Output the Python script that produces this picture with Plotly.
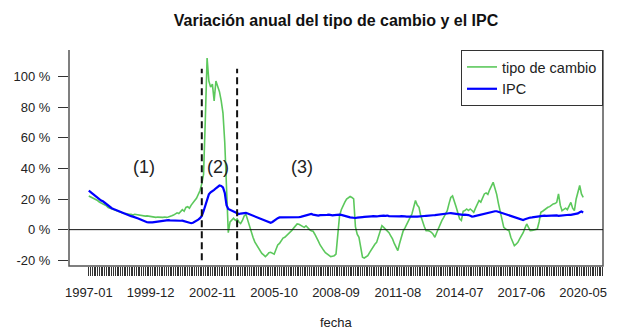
import pandas as pd
import plotly.graph_objects as go

# Monthly series, 1997-01 .. 2020-05
fechas = pd.date_range("1997-01-01", "2020-05-01", freq="MS").strftime("%Y-%m").tolist()

# Annual variation of the exchange rate (%)
tipo_cambio = [
    22, 21.5, 21, 20.5, 19.5, 19, 18, 17.5, 16.5, 16, 15.5, 14.5,          # 1997
    14, 13.5, 13, 12.5, 12, 11.5, 11, 11, 10.5, 10.5, 10, 10,              # 1998
    10, 9.5, 10, 9.8, 9.5, 9.5, 9, 9.2, 8.8, 9, 8.7, 8.7,                  # 1999
    8.5, 8.3, 8, 8.2, 8, 7.8, 8, 8.2, 8, 8.3, 8.5, 9,                      # 2000
    9.5, 10, 11, 10.5, 12, 13, 12, 14.5, 15, 14, 16, 17.8,                 # 2001
    19, 20.5, 23, 25.5, 30, 36, 72, 112, 97, 93, 95, 84,                   # 2002
    97, 94, 90, 84, 76, 57, 26, -2, 5, 6, 7.5, 6,                          # 2003
    7, 5, 4, 6, 9, 10, 6, 3, -1, -5, -8, -10,                              # 2004
    -12, -14, -15.5, -16.5, -17.6, -16.5, -15, -14.8, -15.5, -16, -13, -10,  # 2005
    -9, -7, -5.5, -5, -4, -3, -1.7, -0.5, 1, 2.5, 3.7, 3.5,                # 2006
    3, 2, 1.5, 2.5, 1, 0, -0.7, -1, -3, -5, -7.5, -10,                     # 2007
    -12, -13.5, -15, -16, -17, -17.6, -17.3, -17, -16, -3, 9, 13,          # 2008
    16, 18, 20, 21, 21.6, 21, 20, 2, -3, -5, -12, -18,                     # 2009
    -18.5, -18, -17, -15, -13, -11, -9.5, -8.3, -5, -1, 2.6, 1.5,          # 2010
    0.5, -0.7, -2, -4, -6, -9, -12, -13.7, -9, -5, -1, 1,                  # 2011
    3.7, 6, 8, 10.2, 15, 19, 16, 14.6, 9, 4.8, 2, -0.7,                    # 2012
    -0.5, -1, -1.7, -3, -5, -2, 1, 3.7, 6, 8, 10, 12.4,                    # 2013
    17, 21, 22, 19, 15, 11, 7, 6, 12, 12.5, 13.5, 12.5,                    # 2014
    13.5, 12.5, 11.3, 14, 17, 19, 18, 21, 23.3, 24, 23, 26,                # 2015
    28, 30.9, 27, 23, 17, 11, 6, 1.5, 0.5, 0, -0.7, -5,                    # 2016
    -8, -10.5, -9.5, -8.3, -6, -4, -2, 1, 3.7, 1.5, -0.7, -0.5,            # 2017
    -0.3, 0.2, 0.4, 5, 11.3, 12, 13, 13.5, 14.6, 15, 16, 16.8,             # 2018
    17, 17.8, 23.3, 16, 12.4, 13, 14, 13, 16, 17.8, 14, 12.4,              # 2019
    20, 24, 28.8, 23.3, 21,                                                # 2020
]

# Annual variation of the consumer price index (%)
ipc = [
    25.5, 24.5, 24, 23, 22, 21, 20, 19, 18.5, 17.5, 16.5, 15.5,            # 1997
    15, 14, 13.5, 13, 12.5, 12, 11.3, 11, 10.5, 10, 9.5, 9,                # 1998
    8.8, 8.5, 8.2, 8, 7.3, 6.8, 6.2, 5.7, 5.2, 4.8, 4.7, 4.6,              # 1999
    4.7, 4.9, 5.1, 5.3, 5.5, 5.8, 6, 6.2, 6.3, 6.2, 6, 5.9,                # 2000
    6, 6, 5.9, 5.9, 5.8, 5.9, 5.5, 5, 4.5, 4.1, 4.2, 4.5,                  # 2001
    5, 5.8, 6.5, 7.5, 9, 12, 16, 20, 23, 24.4, 25.5, 26,                   # 2002
    27, 28, 28.8, 28.5, 27.5, 24, 16, 13.5, 13, 12.4, 11.5, 11,            # 2003
    10.5, 10.2, 10.5, 10.8, 11, 10.9, 10.5, 10, 9.5, 9, 8.5, 8,            # 2004
    7.5, 7, 6.5, 6, 5.5, 5, 4.8, 4.5, 5, 6, 6.5, 7.5,                      # 2005
    8, 8, 7.8, 8, 8.2, 8, 7.8, 8, 8.2, 8, 8, 8.2,                          # 2006
    8.3, 8.6, 9, 9.3, 9.6, 10, 10.2, 9.8, 9.5, 9.2, 9.2, 9.5,              # 2007
    9.5, 9.3, 9.5, 9.6, 9.8, 9.5, 9.3, 9.5, 9.7, 9.8, 9.8, 9.6,            # 2008
    9.4, 9, 8.7, 8.3, 8, 7.8, 7.6, 7.6, 7.8, 7.8, 8, 8.2,                  # 2009
    8.3, 8.3, 8.5, 8.6, 8.7, 8.8, 8.5, 8.7, 8.8, 9, 9.1, 9.2,              # 2010
    9, 9.2, 8.8, 8.7, 9, 8.8, 8.5, 8.6, 8.7, 8.8, 8.5, 8.6,                # 2011
    8.5, 8.4, 8.6, 8.5, 8.3, 8.5, 8.5, 8.7, 8.6, 8.8, 8.9, 9,              # 2012
    9, 9.2, 9.3, 9.4, 9.5, 9.7, 9.8, 10, 10.2, 10.4, 10.5, 10.7,           # 2013
    10.7, 10.8, 10.6, 10.5, 10.3, 10, 9.8, 9.5, 9.6, 9.8, 9.7, 9.5,        # 2014
    9, 8.5, 8.7, 9, 9.3, 9.6, 10, 10.3, 10.6, 10.8, 11, 11.3,              # 2015
    11.5, 11.8, 12, 12, 11.6, 11.3, 11, 10.5, 10, 9.8, 9.3, 8.7,           # 2016
    8.2, 7.8, 7.4, 7, 6.7, 6.4, 6.3, 6.8, 7.3, 7.6, 7.9, 8,                # 2017
    8.2, 8.3, 8.5, 8.8, 9.2, 9.3, 9.2, 9, 9.1, 9.2, 9, 9.2,                # 2018
    9.2, 9.3, 9, 9.2, 9.4, 9.2, 9.3, 9.5, 9.7, 9.6, 9.8, 10,               # 2019
    10.2, 10.6, 11.3, 11.8, 11.2,                                          # 2020
]

# Break dates separating the three periods
cortes = ["2002-05", "2004-01"]
periodos = ["(1)", "(2)", "(3)"]
periodos_fecha = ["1999-08", "2003-02", "2007-02"]

y_ticks = [-20, 0, 20, 40, 60, 80, 100]

FONT = "Liberation Sans, Arial, sans-serif"
n = len(fechas)
x = list(range(1, n + 1))
pos = {f: i + 1 for i, f in enumerate(fechas)}

# monthly tick marks, labelled every 35 months
n_ticks = 292
tick_vals = list(range(1, n_ticks + 1))
tick_text = [fechas[v - 1] if v <= n and (v - 1) % 35 == 0 else "" for v in tick_vals]

pad = 0.04 * (n - 1)
y_min, y_max = min(tipo_cambio), max(tipo_cambio)
y_pad = 0.04 * (y_max - y_min)

fig = go.Figure()
fig.add_trace(go.Scatter(x=x, y=tipo_cambio, mode="lines", name="tipo de cambio",
                         line=dict(color="#5cc85c", width=1.6)))
fig.add_trace(go.Scatter(x=x, y=ipc, mode="lines", name="IPC",
                         line=dict(color="#0000ff", width=2.2)))

shapes = [
    # open-top frame: left, bottom, right
    dict(type="path", xref="paper", yref="paper", path="M 0,1 L 0,0 L 1,0 L 1,1",
         line=dict(color="#555555", width=1.5)),
    # zero reference
    dict(type="line", xref="paper", yref="y", x0=0, x1=1, y0=0, y1=0,
         line=dict(color="#111111", width=1)),
]
for c in cortes:
    shapes.append(dict(type="line", xref="x", yref="y", x0=pos[c], x1=pos[c], y0=-20, y1=105,
                       line=dict(color="#111111", width=2, dash="7px,4px")))

annotations = [
    dict(text="fecha", xref="paper", yref="paper", x=0.5, y=-56 / 216, showarrow=False,
         xanchor="center", yanchor="middle", font=dict(family=FONT, size=13, color="#222222")),
]
for lab, f in zip(periodos, periodos_fecha):
    annotations.append(dict(text=lab, xref="x", yref="y", x=pos[f], y=41, showarrow=False,
                            xanchor="center", yanchor="middle",
                            font=dict(family=FONT, size=18, color="#222222")))

fig.update_layout(
    width=640, height=336,
    margin=dict(l=69, r=37, t=50, b=70),
    paper_bgcolor="white", plot_bgcolor="white",
    font=dict(family=FONT, size=13, color="#222222"),
    title=dict(text="<b>Variación anual del tipo de cambio y el IPC</b>",
               x=0.5, xref="paper", xanchor="center",
               y=1 - 20 / 336, yref="container", yanchor="middle",
               font=dict(family=FONT, size=16, color="#111111")),
    showlegend=True,
    legend=dict(x=1, y=1, xanchor="right", yanchor="top", bgcolor="white",
                bordercolor="#333333", borderwidth=1, font=dict(family=FONT, size=14.5),
                tracegroupgap=0, itemwidth=30),
    xaxis=dict(range=[1 - pad, n + pad], tickmode="array", tickvals=tick_vals, ticktext=tick_text,
               ticks="outside", ticklen=9, tickwidth=1, tickcolor="#333333",
               showgrid=False, zeroline=False, showline=False,
               tickfont=dict(family=FONT, size=13, color="#222222"), ticklabelstandoff=5),
    yaxis=dict(range=[y_min - y_pad, y_max + y_pad], tickmode="array", tickvals=y_ticks,
               ticktext=[f"{v} %" for v in y_ticks],
               ticks="outside", ticklen=10, tickwidth=1, tickcolor="#333333",
               showgrid=False, zeroline=False, showline=False,
               tickfont=dict(family=FONT, size=13, color="#222222"), ticklabelstandoff=5),
    shapes=shapes,
    annotations=annotations,
)

fig.write_html("out.html")
